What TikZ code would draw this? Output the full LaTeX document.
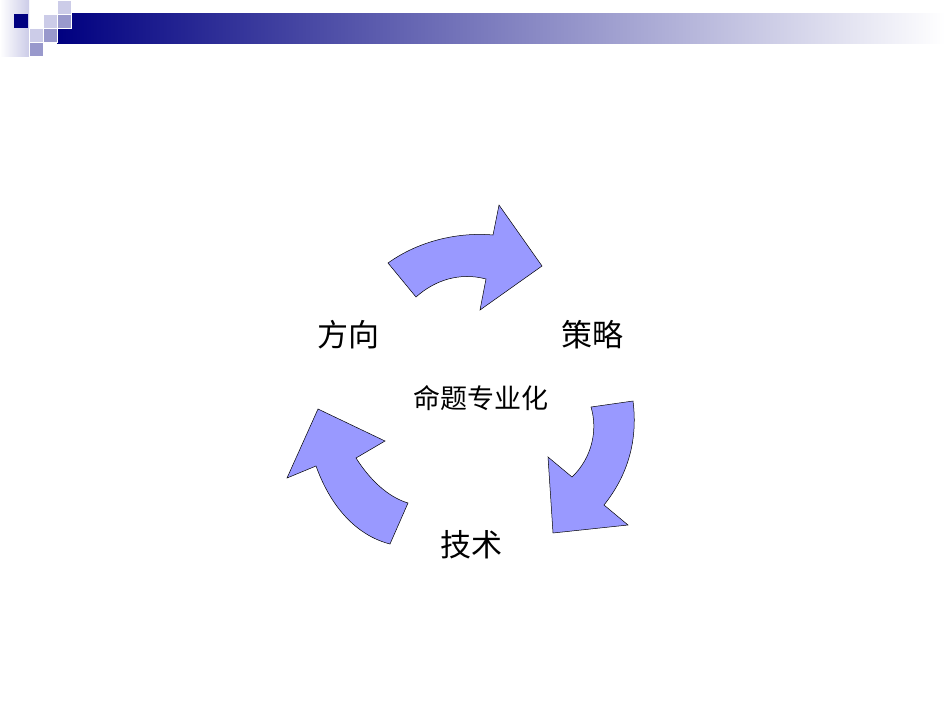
\documentclass[tikz,border=0pt]{standalone}
\usepackage{fontspec}
\newfontfamily\cjk{Noto Sans CJK SC}
\begin{document}
\begin{tikzpicture}[x=1pt,y=-1pt,
  arr/.style={fill=arrfill,draw=black,line width=0.5pt,line join=miter},
  lbl/.style={font=\cjk\fontsize{31}{31}\selectfont,inner sep=0pt},
  sq/.style={draw=white,line width=0.8pt}]
\definecolor{arrfill}{HTML}{9999FF}
\definecolor{navy}{HTML}{000080}
\definecolor{lightsq}{HTML}{CCCCE8}
\definecolor{midsq}{HTML}{9999CC}
\useasboundingbox (0,0) rectangle (950,713);
\fill[white] (0,0) rectangle (950,713);
% header
\shade[left color=white,right color=lightsq] (0,0) rectangle (29,56);
\shade[left color=navy,right color=white] (57,13) rectangle (945,43);
\fill[navy] (14,14) rectangle (28,28);
\filldraw[sq,fill=lightsq] (43,14) rectangle (57,28);
\filldraw[sq,fill=lightsq] (57,0) rectangle (71,14);
\filldraw[sq,fill=midsq] (57,14) rectangle (71,28);
\filldraw[sq,fill=lightsq] (29,28) rectangle (43,42);
\filldraw[sq,fill=midsq] (43,28) rectangle (57,42);
\filldraw[sq,fill=midsq] (29,42) rectangle (43,56);
% arrows
\draw[arr] (388,263) .. controls (420,240) and (460,232) .. (493,235)
  -- (499,205) -- (542,266) -- (480,310) -- (486,279)
  .. controls (460,272) and (435,280) .. (416,297) -- cycle;
\draw[arr] (633,401) -- (591,407) .. controls (598,430) and (592,458) .. (572,477)
  -- (548,457) -- (553,533) -- (628,525) -- (604,505)
  .. controls (628,475) and (638,440) .. cycle;
\draw[arr] (287,478) -- (318,409) -- (385,441) -- (356,458)
  .. controls (370,480) and (388,497) .. (408,503)
  -- (390,544) .. controls (355,535) and (330,505) .. (316,466) -- cycle;
% labels
\node[lbl] (fx) at (348,335) {方向};
\node[lbl] (cl) at (592,335) {策略};
\node[lbl,font=\cjk\fontsize{27}{27}\selectfont] (mt) at (481,398) {命题专业化};
\node[lbl] (js) at (471,545) {技术};
\end{tikzpicture}
\end{document}
